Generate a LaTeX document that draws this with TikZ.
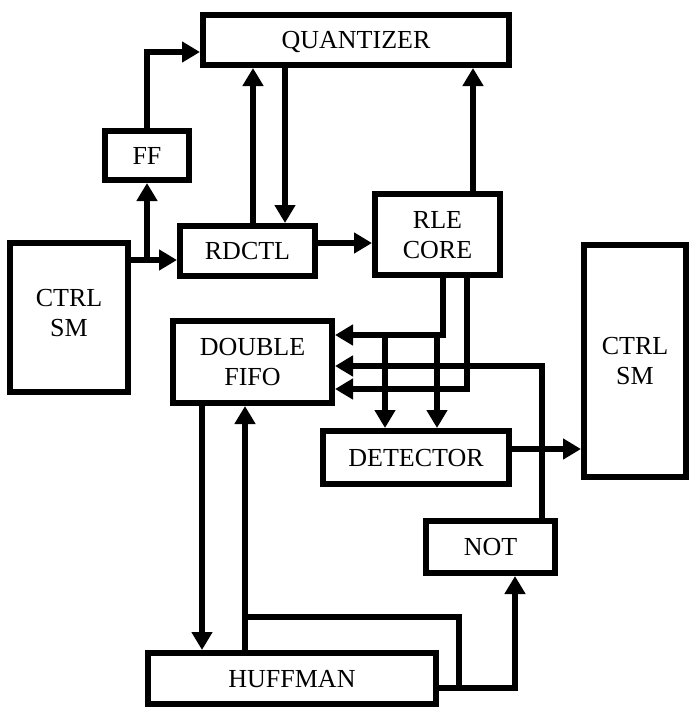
\documentclass[tikz,border=0pt]{standalone}
\usepackage{fontspec}
\setmainfont{Liberation Serif}
\usetikzlibrary{positioning,arrows.meta}

\begin{document}
\begin{tikzpicture}[x=0.5pt,y=-0.5pt,
  blk/.style={draw,line width=3pt,inner sep=0pt,align=center,
    font=\fontsize{13}{15}\selectfont,text depth=-4pt},
  arr/.style={line width=3pt,-{Triangle[length=9pt,width=10pt]}},
  wire/.style={line width=3pt}]
  \useasboundingbox (0,0) rectangle (689,708);
  \node[blk,minimum width=153pt,minimum height=25pt] (quantizer) at (356,40) {QUANTIZER};
  \node[blk,minimum width=42pt,minimum height=24.5pt] (ff) at (147,155.5) {FF};
  \node[blk,minimum width=67.5pt,minimum height=25pt] (rdctl) at (247.5,251) {RDCTL};
  \node[blk,minimum width=62.5pt,minimum height=40.5pt] (rle) at (437.5,234.5) {RLE\\CORE};
  \node[blk,minimum width=59pt,minimum height=74.5pt,text depth=5pt] (ctrlleft) at (69,317.5) {CTRL\\SM};
  \node[blk,minimum width=51pt,minimum height=116pt,text depth=-7.5pt] (ctrlright) at (635,361) {CTRL\\SM};
  \node[blk,minimum width=79.5pt,minimum height=41pt] (fifo) at (252.5,362) {DOUBLE\\FIFO};
  \node[blk,minimum width=93pt,minimum height=26.5pt] (detector) at (416,457.5) {DETECTOR};
  \node[blk,minimum width=64.5pt,minimum height=26pt] (inverter) at (490.5,547) {NOT};
  \node[blk,minimum width=144pt,minimum height=25.5pt] (huffman) at (292,678.5) {HUFFMAN};

  \coordinate (split) at (147,260);
  \coordinate (ffq) at (147,52);
  \coordinate (ta) at (443,335);
  \coordinate (tb) at (467,389);
  \coordinate (tc) at (542,366);
  \coordinate (da) at (385,335);
  \coordinate (db) at (437,335);
  \coordinate (hb) at (245,617);
  \coordinate (hc) at (459,688);
  \coordinate (hn) at (515,688);

  \draw[arr] (ctrlleft.east |- split) -- (rdctl.west |- split);
  \draw[arr] (split) -- (ff.south);
  \draw[arr] (ff.north) |- (quantizer.west |- ffq);
  \draw[arr] ([xshift=2.75pt]rdctl.north) -- ([xshift=2.75pt]rdctl.north |- quantizer.south);
  \draw[arr] ([xshift=18.75pt]rdctl.north |- quantizer.south) -- ([xshift=18.75pt]rdctl.north);
  \draw[arr] ([yshift=4pt]rdctl.east) -- ([yshift=4pt]rdctl.east -| rle.west);
  \draw[arr] ([xshift=17.75pt]rle.north) -- ([xshift=17.75pt]rle.north |- quantizer.south);
  \draw[arr] ([xshift=2.75pt]rle.south) |- (fifo.east |- ta);
  \draw[arr] ([xshift=14.75pt]rle.south) |- (fifo.east |- tb);
  \draw[arr] (da) -- (da |- detector.north);
  \draw[arr] (db) -- (db |- detector.north);
  \draw[arr] (inverter.north -| tc) |- (fifo.east |- tc);
  \draw[arr] ([yshift=4.25pt]detector.east) -- ([yshift=4.25pt]detector.east -| ctrlright.west);
  \draw[arr] ([xshift=-25.25pt]fifo.south) -- ([xshift=-25.25pt]fifo.south |- huffman.north);
  \draw[arr] ([xshift=-23.5pt]huffman.north) -- ([xshift=-23.5pt]huffman.north |- fifo.south);
  \draw[wire] (hb) -| (hc);
  \draw[arr] (huffman.east |- hn) -| (inverter.south -| hn);
\end{tikzpicture}
\end{document}
